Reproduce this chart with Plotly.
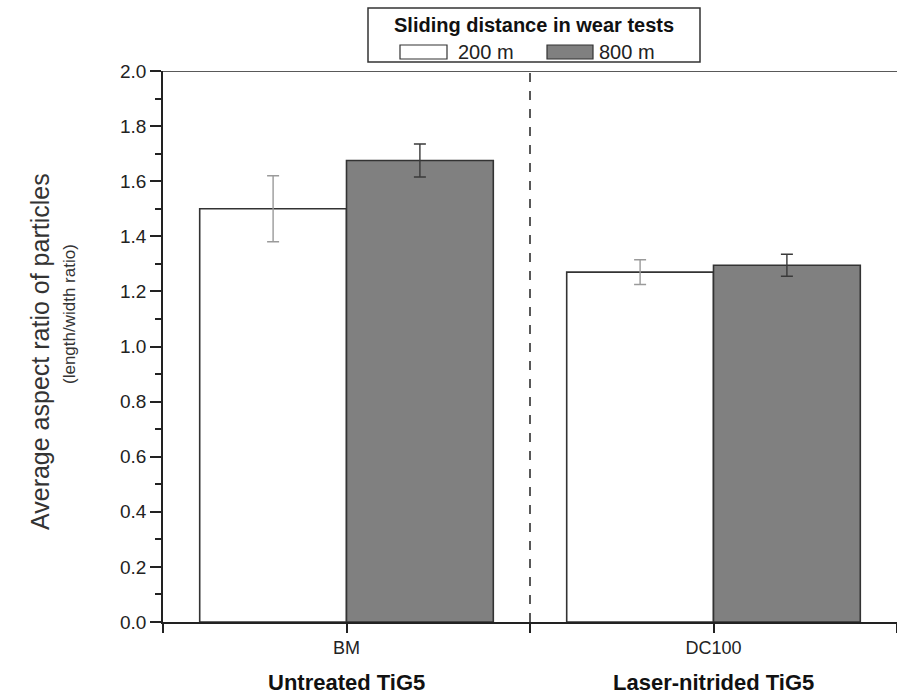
import plotly.graph_objects as go

categories = ["BM", "DC100"]
group_labels = ["Untreated TiG5", "Laser-nitrided TiG5"]
series_names = ["200 m", "800 m"]
values_200 = [1.50, 1.27]
errors_200 = [0.12, 0.045]
values_800 = [1.675, 1.295]
errors_800 = [0.06, 0.04]
y_ticks = [0.0, 0.2, 0.4, 0.6, 0.8, 1.0, 1.2, 1.4, 1.6, 1.8, 2.0]

W, H = 897, 699
L, R, T, B = 163, 0, 71, 77
FONT = "Arial, Liberation Sans, sans-serif"

def px(xp):
    return (xp - L) / (W - L - R)

def py(yp):
    return (H - B - yp) / (H - T - B)

xpos = list(range(len(categories)))

fig = go.Figure()
fig.add_trace(go.Bar(
    x=xpos, y=values_200, name=series_names[0],
    marker=dict(color="white", line=dict(color="#333333", width=1.6)),
    error_y=dict(type="data", array=errors_200, color="#9a9a9a", thickness=1.4, width=6),
    showlegend=False,
))
fig.add_trace(go.Bar(
    x=xpos, y=values_800, name=series_names[1],
    marker=dict(color="#808080", line=dict(color="#333333", width=1.6)),
    error_y=dict(type="data", array=errors_800, color="#3a3a3a", thickness=1.4, width=6),
    showlegend=False,
))

fig.update_layout(
    width=W, height=H,
    margin=dict(l=L, r=R, t=T, b=B),
    paper_bgcolor="white", plot_bgcolor="white",
    barmode="group", bargap=0.2, bargroupgap=0,
    font=dict(family=FONT, color="#222222", size=16),
    xaxis=dict(
        range=[-0.5, 1.5],
        tickvals=[-0.5, 0, 0.5, 1, 1.5],
        ticktext=["", categories[0], "", categories[1], ""],
        ticks="outside", ticklen=9, tickwidth=1.5, tickcolor="#222",
        showline=True, linecolor="#222", linewidth=1.5,
        showgrid=False, zeroline=False,
        tickfont=dict(size=18, family=FONT, color="#222"),
    ),
    yaxis=dict(
        range=[0, 2.0],
        tickvals=y_ticks,
        tickformat=".1f",
        ticks="outside", ticklen=11, tickwidth=1.5, tickcolor="#222",
        minor=dict(dtick=0.1, ticks="outside", ticklen=6, tickwidth=1.5, tickcolor="#222"),
        showline=True, linecolor="#222", linewidth=1.5,
        showgrid=False, zeroline=False,
        tickfont=dict(size=19, family=FONT, color="#222"),
    ),
)

shapes = []
shapes.append(dict(type="line", xref="paper", yref="y", x0=0, x1=1, y0=2.0, y1=2.0,
                   line=dict(color="#222", width=1.5)))
shapes.append(dict(type="line", xref="x", yref="y", x0=0.5, x1=0.5, y0=0, y1=2.0,
                   line=dict(color="#222", width=1.5, dash="dash")))
shapes.append(dict(type="rect", xref="paper", yref="paper",
                   x0=px(368), x1=px(700), y0=py(62), y1=py(8),
                   line=dict(color="#333", width=1.5), fillcolor="white"))
shapes.append(dict(type="rect", xref="paper", yref="paper",
                   x0=px(400), x1=px(447), y0=py(59), y1=py(45),
                   line=dict(color="#333", width=1.2), fillcolor="white"))
shapes.append(dict(type="rect", xref="paper", yref="paper",
                   x0=px(547), x1=px(593), y0=py(59), y1=py(45),
                   line=dict(color="#333", width=1.2), fillcolor="#808080"))
fig.update_layout(shapes=shapes)

ann = []
ann.append(dict(text="<b>Sliding distance in wear tests</b>", xref="paper", yref="paper",
                x=px(534), y=py(25), showarrow=False, xanchor="center", yanchor="middle",
                font=dict(size=20, family=FONT, color="#111")))
ann.append(dict(text=series_names[0], xref="paper", yref="paper",
                x=px(456), y=py(52), showarrow=False, xanchor="left", yanchor="middle",
                font=dict(size=20, family=FONT, color="#222")))
ann.append(dict(text=series_names[1], xref="paper", yref="paper",
                x=px(597), y=py(52), showarrow=False, xanchor="left", yanchor="middle",
                font=dict(size=20, family=FONT, color="#222")))
ann.append(dict(text="Average aspect ratio of particles", xref="paper", yref="paper",
                x=px(40), y=py(352), showarrow=False, textangle=-90,
                xanchor="center", yanchor="middle",
                font=dict(size=25, family=FONT, color="#333")))
ann.append(dict(text="(length/width ratio)", xref="paper", yref="paper",
                x=px(69), y=py(314), showarrow=False, textangle=-90,
                xanchor="center", yanchor="middle",
                font=dict(size=17, family=FONT, color="#333")))
for i, g in enumerate(group_labels):
    ann.append(dict(text="<b>" + g + "</b>", xref="x", yref="paper",
                    x=xpos[i], y=py(682), showarrow=False,
                    xanchor="center", yanchor="middle",
                    font=dict(size=22, family=FONT, color="#111")))
fig.update_layout(annotations=ann)

fig.write_html("out.html", config={"displayModeBar": False},
               post_script="document.body.style.margin='0';")
